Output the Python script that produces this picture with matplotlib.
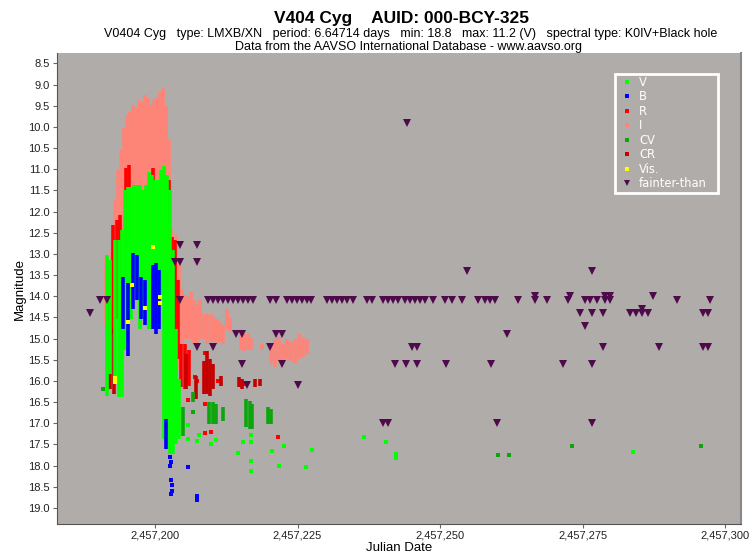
import matplotlib
matplotlib.use("Agg")
import matplotlib.pyplot as plt
from matplotlib.lines import Line2D
from matplotlib.patches import Rectangle
from matplotlib.ticker import FuncFormatter, MultipleLocator

# ---------------- data (JD, magnitude) ----------------
# Streaks: nightly time series drawn as vertical ranges (JD, brightest, faintest)
I_jd = [2457191.40, 2457192.46, 2457192.98, 2457193.51, 2457194.04, 2457194.56, 2457195.09, 2457195.61,
        2457196.14, 2457196.67, 2457197.19, 2457197.72, 2457198.25, 2457198.77, 2457199.30,
        2457199.82, 2457200.35, 2457200.88, 2457201.40, 2457201.93, 2457202.46, 2457202.98,
        2457203.68, 2457204.21, 2457204.74, 2457205.26, 2457205.79, 2457206.32, 2457206.84,
        2457207.37, 2457207.89, 2457208.60, 2457209.12, 2457209.82, 2457210.35, 2457210.88,
        2457211.40, 2457211.93, 2457212.63, 2457213.16, 2457215.09, 2457215.61, 2457216.32,
        2457216.84, 2457218.77, 2457220.35, 2457221.05, 2457221.75, 2457222.46, 2457223.16,
        2457223.86, 2457224.56, 2457225.26, 2457225.96, 2457226.67]
I_bright = [13.10, 12.90, 11.73, 11.02, 10.55, 10.03, 9.72, 9.65, 9.49, 9.54, 9.37, 9.42, 9.25, 9.32, 9.49,
            9.37, 9.30, 9.18, 9.09, 9.49, 10.31, 12.43, 12.55, 13.14, 13.84, 13.96, 14.01, 13.91,
            14.08, 14.20, 14.08, 14.43, 14.43, 14.43, 14.50, 14.55, 14.60, 14.67, 14.31, 14.50,
            14.78, 14.86, 14.90, 14.97, 15.14, 15.14, 15.02, 14.97, 15.14, 15.02, 15.07, 15.02,
            14.90, 14.97, 15.02]
I_faint = [14.70, 14.08, 13.84, 13.61, 13.14, 13.14, 12.90, 12.90, 12.90, 12.90, 12.90, 12.90, 12.90, 12.90,
           12.90, 12.90, 12.90, 12.90, 12.90, 11.73, 12.90, 14.78, 14.78, 15.73, 15.14, 15.02, 15.02,
           15.02, 15.14, 15.14, 15.02, 15.02, 15.14, 15.09, 15.09, 15.14, 15.09, 15.14, 14.78, 14.83,
           15.26, 15.30, 15.26, 15.26, 15.26, 15.61, 15.68, 15.54, 15.61, 15.49, 15.54, 15.61, 15.49,
           15.44, 15.37]

R_jd = [2457191.93, 2457192.63, 2457193.33, 2457193.86, 2457194.91, 2457195.44, 2457199.65,
        2457201.93, 2457202.46, 2457202.98, 2457203.51, 2457204.04, 2457204.56, 2457205.26,
        2457205.96]
R_bright = [13.61, 12.31, 12.19, 12.08, 10.97, 10.90, 10.97, 11.21, 11.25, 12.60, 12.67, 13.61,
            15.14, 15.14, 15.26]
R_faint = [14.78, 14.90, 14.55, 13.61, 12.90, 12.78, 11.49, 12.24, 12.67, 14.78, 15.49, 15.49,
           16.15, 16.20, 16.13]
R_pt_jd = [2457205.79, 2457208.77, 2457208.77, 2457209.82, 2457207.02, 2457207.37, 2457208.77,
           2457221.58, 2457211.05, 2457215.79]
R_pt_mag = [16.46, 16.55, 17.23, 17.21, 15.91, 16.01, 15.33, 17.33, 16.01, 16.08]

CR_jd = [2457192.11, 2457192.81, 2457205.44, 2457207.19, 2457208.60, 2457209.12, 2457209.65,
         2457210.18, 2457211.58, 2457214.74, 2457215.26, 2457217.54, 2457218.42]
CR_bright = [14.08, 14.78, 15.37, 15.89, 15.54, 15.30, 15.49, 15.61, 15.89, 15.91, 15.96, 15.96, 15.96]
CR_faint = [16.20, 16.32, 16.20, 16.43, 16.32, 16.32, 16.36, 16.20, 16.13, 16.15, 16.20, 16.15, 16.13]

V_jd = [2457191.58, 2457192.11, 2457192.98, 2457193.68, 2457194.21, 2457194.74, 2457195.26,
        2457195.79, 2457196.32, 2457196.84, 2457197.37, 2457197.89, 2457198.42, 2457198.95,
        2457199.47, 2457200.00, 2457200.53, 2457201.05, 2457201.58, 2457202.11, 2457202.63,
        2457203.16, 2457203.68, 2457204.21]
V_bright = [13.02, 13.14, 12.67, 12.67, 12.43, 11.49, 11.42, 11.42, 11.37, 11.37, 11.37, 11.49,
            11.37, 11.07, 11.14, 11.25, 11.25, 11.02, 10.92, 11.14, 11.49, 12.90, 14.78, 15.96]
V_faint = [16.36, 15.84, 16.03, 16.39, 16.39, 15.26, 14.78, 14.55, 13.84, 14.08, 14.78, 14.55,
           14.08, 14.78, 14.08, 13.84, 13.61, 14.08, 17.37, 17.61, 17.73, 17.73, 17.49, 17.37]
V_pt_jd = [2457205.79, 2457207.72, 2457205.79, 2457207.37, 2457209.82, 2457210.70, 2457215.44,
           2457214.56, 2457216.84, 2457216.84, 2457216.84, 2457216.84, 2457220.53, 2457221.75,
           2457222.63, 2457226.49, 2457227.54, 2457236.67, 2457240.53, 2457242.28, 2457242.28,
           2457283.86]
V_pt_mag = [17.04, 17.28, 17.37, 17.42, 17.49, 17.40, 17.45, 17.70, 17.28, 17.45, 17.89, 18.13,
            17.66, 18.01, 17.54, 18.03, 17.63, 17.33, 17.45, 17.73, 17.82, 17.68]

CV_jd = [2457204.91, 2457206.67, 2457209.47, 2457210.18, 2457210.70, 2457211.93, 2457215.96,
         2457216.67, 2457217.02, 2457219.82, 2457220.35]
CV_bright = [16.62, 16.27, 16.50, 16.50, 16.55, 16.62, 16.43, 16.48, 16.55, 16.62, 16.67]
CV_faint = [17.30, 16.50, 17.02, 17.02, 17.02, 16.95, 17.09, 17.14, 17.14, 17.02, 17.02]
CV_pt_jd = [2457260.18, 2457262.11, 2457273.16, 2457295.79, 2457190.88, 2457206.67]
CV_pt_mag = [17.75, 17.75, 17.54, 17.54, 16.20, 16.74]

B_jd = [2457194.39, 2457195.26, 2457196.14, 2457196.84, 2457197.54, 2457198.25, 2457199.65,
        2457200.18, 2457200.70, 2457201.93]
B_bright = [13.54, 13.68, 12.97, 13.02, 13.54, 13.61, 13.26, 13.21, 13.37, 16.90]
B_faint = [14.78, 15.42, 14.31, 14.08, 14.55, 14.67, 14.78, 14.90, 14.78, 17.61]
B_pt_jd = [2457202.63, 2457202.81, 2457202.63, 2457202.81, 2457202.98, 2457202.98, 2457202.81,
           2457205.79, 2457207.37, 2457207.37]
B_pt_mag = [17.80, 17.92, 18.01, 18.34, 18.46, 18.60, 18.67, 18.03, 18.72, 18.81]

Vis_jd = [2457195.96, 2457200.88, 2457200.88, 2457198.25, 2457192.98, 2457192.98, 2457195.26,
          2457199.65]
Vis_mag = [13.73, 14.03, 14.15, 14.27, 15.94, 16.03, 14.60, 12.83]

# fainter-than (upper limits)
FT_jd = [2457188.60, 2457190.35, 2457191.58, 2457204.39, 2457209.30, 2457210.18, 2457211.05,
         2457211.93, 2457212.81, 2457213.68, 2457214.56, 2457215.44, 2457216.32, 2457217.19,
         2457220.18, 2457221.23, 2457223.16, 2457224.04, 2457224.91, 2457225.79, 2457226.67,
         2457227.37, 2457230.18, 2457231.05, 2457231.93, 2457232.81, 2457233.68, 2457234.74,
         2457237.19, 2457238.07, 2457240.00, 2457240.88, 2457241.75, 2457242.63, 2457243.86,
         2457244.74, 2457245.61, 2457246.49, 2457247.37, 2457248.77, 2457250.88, 2457252.11,
         2457253.86, 2457256.67, 2457257.89, 2457258.77, 2457259.65, 2457263.68, 2457266.67,
         2457268.77, 2457272.46, 2457275.44, 2457276.32, 2457277.54, 2457278.95, 2457279.82,
         2457291.58, 2457297.37,
         2457266.67, 2457272.81, 2457278.95, 2457279.82, 2457287.37,
         2457274.56, 2457276.67, 2457278.60, 2457283.33, 2457284.39, 2457285.44, 2457286.49,
         2457296.14, 2457297.02, 2457285.44,
         2457275.44, 2457261.75, 2457214.21, 2457215.26, 2457221.23, 2457222.28,
         2457245.09, 2457245.96, 2457278.60, 2457288.42, 2457296.14, 2457297.02, 2457207.37,
         2457210.18, 2457220.18,
         2457242.11, 2457244.04, 2457245.96, 2457251.05, 2457258.95, 2457271.58, 2457276.67,
         2457215.26, 2457222.28,
         2457216.14, 2457225.09,
         2457240.00, 2457240.88, 2457260.00, 2457276.67,
         2457254.74, 2457276.67, 2457244.21,
         2457204.39, 2457207.37, 2457203.51, 2457204.39, 2457207.37]
FT_mag = [14.4, 14.1, 14.1, 14.1, 14.1, 14.1, 14.1, 14.1, 14.1, 14.1, 14.1, 14.1, 14.1, 14.1,
          14.1, 14.1, 14.1, 14.1, 14.1, 14.1, 14.1, 14.1, 14.1, 14.1, 14.1, 14.1, 14.1, 14.1,
          14.1, 14.1, 14.1, 14.1, 14.1, 14.1, 14.1, 14.1, 14.1, 14.1, 14.1, 14.1, 14.1, 14.1,
          14.1, 14.1, 14.1, 14.1, 14.1, 14.1, 14.1, 14.1, 14.1, 14.1, 14.1, 14.1, 14.1, 14.1,
          14.1, 14.1,
          14.0, 14.0, 14.0, 14.0, 14.0,
          14.4, 14.4, 14.4, 14.4, 14.4, 14.4, 14.4, 14.4, 14.4, 14.3,
          14.7, 14.9, 14.9, 14.9, 14.9, 14.9,
          15.2, 15.2, 15.2, 15.2, 15.2, 15.2, 15.2, 15.2, 15.2,
          15.6, 15.6, 15.6, 15.6, 15.6, 15.6, 15.6, 15.6, 15.6,
          16.1, 16.1,
          17.0, 17.0, 17.0, 17.0,
          13.4, 13.4, 9.9,
          12.8, 12.8, 13.2, 13.2, 13.2]

x_ticks = [2457200, 2457225, 2457250, 2457275, 2457300]

title = "V404 Cyg    AUID: 000-BCY-325"
subtitle1 = ("V0404 Cyg   type: LMXB/XN   period: 6.64714 days   min: 18.8   max: 11.2 (V)   "
             "spectral type: K0IV+Black hole")
subtitle2 = "Data from the AAVSO International Database - www.aavso.org"

# ---------------- style ----------------
BG = "#b0acaa"
C_V, C_B, C_R, C_I = "#00ff00", "#0000ff", "#ff0000", "#ff8478"
C_CV, C_CR, C_VIS, C_FT = "#0ca60c", "#c40000", "#ffff00", "#4e0a4a"

plt.rcParams['font.family'] = ['Liberation Sans', 'DejaVu Sans']

fig = plt.figure(figsize=(7.5, 5.55), dpi=100)
ax = fig.add_axes([0.076, 0.056, 0.912, 0.848])
ax.set_facecolor(BG)

LW = 2.6
ax.vlines(I_jd, I_bright, I_faint, colors=C_I, lw=LW, zorder=2)
ax.vlines(R_jd, R_bright, R_faint, colors=C_R, lw=LW, zorder=3)
ax.plot(R_pt_jd, R_pt_mag, ls='none', marker='s', ms=2.6, mew=0, color=C_R, zorder=3)
ax.vlines(CR_jd, CR_bright, CR_faint, colors=C_CR, lw=LW, zorder=3)
ax.vlines(V_jd, V_bright, V_faint, colors=C_V, lw=LW, zorder=4)
ax.plot(V_pt_jd, V_pt_mag, ls='none', marker='s', ms=2.6, mew=0, color=C_V, zorder=4)
ax.vlines(CV_jd, CV_bright, CV_faint, colors=C_CV, lw=LW, zorder=4)
ax.plot(CV_pt_jd, CV_pt_mag, ls='none', marker='s', ms=2.4, mew=0, color=C_CV, zorder=4)
ax.vlines(B_jd, B_bright, B_faint, colors=C_B, lw=LW, zorder=5)
ax.plot(B_pt_jd, B_pt_mag, ls='none', marker='s', ms=2.8, mew=0, color=C_B, zorder=5)
ax.plot(Vis_jd, Vis_mag, ls='none', marker='s', ms=2.6, mew=0, color=C_VIS, zorder=6)
ax.plot(FT_jd, FT_mag, ls='none', marker='v', ms=5.2, mew=0, color=C_FT, zorder=7)

ax.set_xlim(2457182.8, 2457302.8)
ax.set_ylim(19.38, 8.26)
ax.yaxis.set_major_locator(MultipleLocator(0.5))
ax.yaxis.set_major_formatter(FuncFormatter(lambda v, p: f"{v:.1f}"))
ax.set_xticks(x_ticks)
ax.xaxis.set_major_formatter(FuncFormatter(lambda v, p: f"{int(round(v)):,}"))
ax.tick_params(axis='both', labelsize=8, length=3, pad=2, color='#666666', labelcolor='#222222')

ax.spines['top'].set_visible(False)
ax.spines['left'].set_color('#555555')
ax.spines['bottom'].set_color('#555555')
ax.spines['right'].set_color('#888888')
ax.spines['right'].set_linewidth(1.5)

ax.set_xlabel("Julian Date", fontsize=9.5, labelpad=1)
ax.set_ylabel("Magnitude", fontsize=9.5, labelpad=2)

fig.text(0.536, 0.966, title, ha='center', va='center', fontsize=12.5, fontweight='bold')
fig.text(0.547, 0.939, subtitle1, ha='center', va='center', fontsize=9)
fig.text(0.544, 0.916, subtitle2, ha='center', va='center', fontsize=9)

# legend: white box + entries
ax.add_patch(Rectangle((0.8158, 0.7031), 0.1506, 0.2529, transform=ax.transAxes,
                       facecolor=BG, edgecolor='white', lw=2, zorder=9, clip_on=False))
labels = ["V", "B", "R", "I", "CV", "CR", "Vis.", "fainter-than"]
colors = [C_V, C_B, C_R, C_I, C_CV, C_CR, C_VIS, C_FT]
handles = []
for lab, col in zip(labels, colors):
    mk = 'v' if lab == 'fainter-than' else 's'
    ms = 5 if mk == 'v' else 3
    handles.append(Line2D([], [], ls='none', marker=mk, ms=ms, mew=0, color=col, label=lab))
leg = ax.legend(handles=handles, loc='upper left', bbox_to_anchor=(0.8249, 0.9518),
                prop={'family': 'DejaVu Sans', 'size': 8.3}, labelcolor='white',
                frameon=False, labelspacing=0.13,
                handlelength=1.0, handletextpad=0.54, borderpad=0, borderaxespad=0)
leg.set_zorder(10)

fig.savefig("out.png", dpi=100, facecolor='white')
